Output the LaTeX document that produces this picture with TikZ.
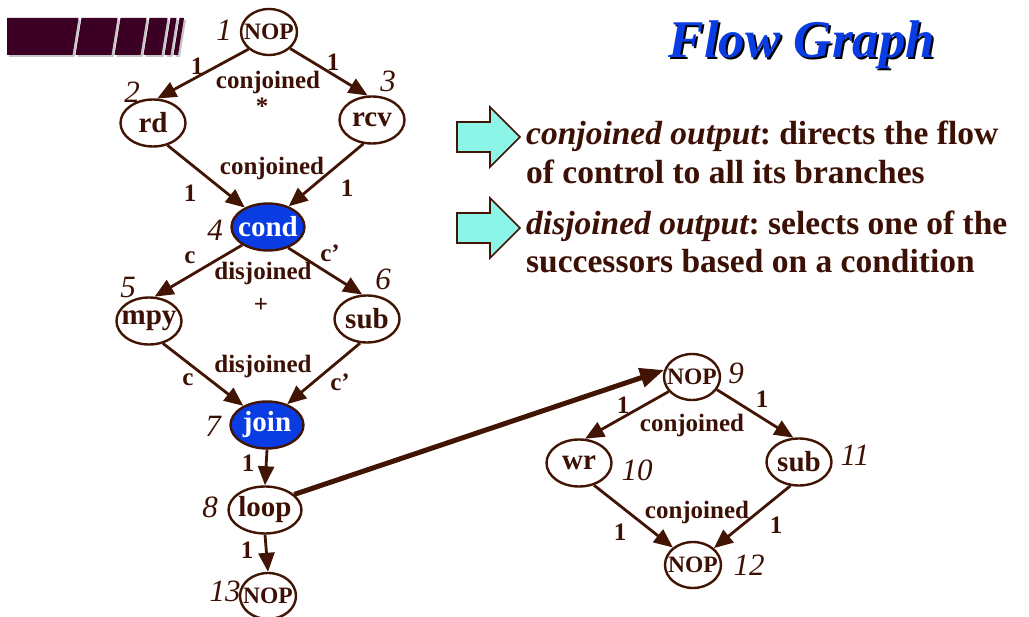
\documentclass[tikz,border=0pt]{standalone}
\usepackage{fontspec}
\setmainfont{Liberation Serif}
\usetikzlibrary{arrows.meta,shapes.geometric}
\frenchspacing
\definecolor{ink}{RGB}{66,20,4}
\definecolor{txt}{RGB}{60,16,4}
\definecolor{nodeblue}{RGB}{10,60,228}
\definecolor{barmaroon}{RGB}{60,0,36}
\definecolor{aqua}{RGB}{140,245,232}
\newcommand\fsz[1]{\fontsize{#1}{#1}\selectfont}
\tikzset{
  op/.style={ellipse, draw=ink, line width=2.4pt, fill=white, inner ysep=0pt, inner xsep=-6pt,
    minimum width=65pt, minimum height=47pt, text=txt, font=\fsz{29}\bfseries},
  nop/.style={op, minimum width=56pt, minimum height=46pt, font=\fsz{23.5}\bfseries},
  ctl/.style={op, fill=nodeblue, text=white, minimum width=73pt},
  num/.style={text=txt, font=\fsz{31}\itshape, inner sep=0pt},
  elab/.style={text=txt, font=\fsz{25}\bfseries, inner sep=0pt},
  flow/.style={draw=ink, line width=2.8pt, -{Triangle[length=19pt,width=16pt]}},
  bigflow/.style={draw=ink, line width=5pt, -{Triangle[length=24pt,width=19pt]}},
  bullettxt/.style={text=txt, font=\fsz{33.5}\bfseries, inner sep=0pt, anchor=base west},
  pointer/.style={draw=ink, line width=1.6pt, fill=aqua, line join=miter},
}
\begin{document}
\begin{tikzpicture}[x=1pt,y=-1pt]
\useasboundingbox (0,0) rectangle (1029,617);

% header bar with slanted cuts
\foreach \a/\b/\c/\d in {7/78.5/72.5/7, 81.5/117.5/111.5/75.5, 120.5/146.5/140.5/114.5,
    149.5/167.5/161.5/143.5, 170.5/176.5/170.5/164.5, 179.5/184/178/173.5} {
  \fill[gray!45] (\a+2,20) -- (\b+2,20) -- (\c+2,57) -- (\d+2,57) -- cycle;
  \fill[barmaroon] (\a,18) -- (\b,18) -- (\c,55) -- (\d,55) -- cycle;
}

% title
\node[font=\fsz{53}\bfseries\itshape, text=black, anchor=base, inner sep=0pt] at (804,60) {Flow Graph};
\node[font=\fsz{53}\bfseries\itshape, text=nodeblue, anchor=base, inner sep=0pt] (title) at (802,58) {Flow Graph};

% explanation bullets
\draw[pointer] (457,122) -- (490,122) -- (490,107) -- (520,137) -- (490,167) -- (490,152) -- (457,152) -- cycle;
\draw[pointer] (457,213) -- (490,213) -- (490,198) -- (520,228) -- (490,258) -- (490,243) -- (457,243) -- cycle;
\node[bullettxt] (b1) at (526,145) {{\itshape conjoined output}: directs the flow};
\node[bullettxt] (b2) at (526,184) {of control to all its branches};
\node[bullettxt] (b3) at (526,235) {{\itshape disjoined output}: selects one of the};
\node[bullettxt] (b4) at (526,273) {successors based on a condition};

% main graph
\node[nop] (n1) at (269,32) {NOP};
\node[op]  (n2) at (153,123) {rd};
\node[op]  (n3) at (372,120) {rcv};
\node[ctl] (n4) at (268,227) {cond};
\node[op]  (n5) at (149,321) {mpy};
\node[op]  (n6) at (367,319) {sub};
\node[ctl] (n7) at (267,425) {join};
\node[op, minimum width=73pt] (n8) at (265,510) {loop};
\node[nop] (n13) at (268,596) {NOP};

% loop body
\node[nop] (n9)  at (692,377) {NOP};
\node[op]  (n10) at (579,463) {wr};
\node[op]  (n11) at (799,462) {sub};
\node[nop] (n12) at (693,565) {NOP};

% node numbers
\node[num] at (224,30) {1};
\node[num] at (132,92) {2};
\node[num] at (388,81) {3};
\node[num] at (215,230) {4};
\node[num] at (128,288) {5};
\node[num] at (383,279) {6};
\node[num] at (213,426) {7};
\node[num] at (210,507) {8};
\node[num] at (225,591) {13};
\node[num] at (736,373) {9};
\node[num] at (637,470) {10};
\node[num] at (855,455) {11};
\node[num] at (749,565) {12};

% connectors
\draw[flow] (n1.220) -- (n2.80);
\draw[flow] (n1.-38) -- (n3.100);
\draw[flow] (n2.-57) -- (n4.140);
\draw[flow] (n3.-110) -- (n4.45);
\draw[flow] (n4.215) -- (n5.77);
\draw[flow] (n4.-46) -- (n6.101);
\draw[flow] (n5.-58) -- (n7.141);
\draw[flow] (n6.-106) -- (n7.46);
\draw[flow] (n7.south) -- (n8.north);
\draw[flow] (n8.south) -- (n13.north);
\draw[bigflow] (n8.28) -- (n9.166);
\draw[flow] (n9.212) -- (n10.76);
\draw[flow] (n9.-27) -- (n11.103);
\draw[flow] (n10.-56) -- (n12.139);
\draw[flow] (n11.-110) -- (n12.39);

% connector labels
\node[elab] at (197,66) {1};
\node[elab] at (333,62) {1};
\node[elab] at (268,82) {conjoined};
\node[elab] at (262,106) {*};
\node[elab] at (272,168) {conjoined};
\node[elab] at (190,193) {1};
\node[elab] at (347,188) {1};
\node[elab] at (190,258) {c};
\node[elab] at (330,253) {c'};
\node[elab] at (263,273) {disjoined};
\node[elab] at (261,305) {+};
\node[elab] at (263,366) {disjoined};
\node[elab] at (188,380) {c};
\node[elab] at (340,382) {c'};
\node[elab] at (248,463) {1};
\node[elab] at (247,550) {1};
\node[elab] at (623,405) {1};
\node[elab] at (762,399) {1};
\node[elab] at (692,425) {conjoined};
\node[elab] at (697,512) {conjoined};
\node[elab] at (620,532) {1};
\node[elab] at (776,525) {1};
\end{tikzpicture}
\end{document}
